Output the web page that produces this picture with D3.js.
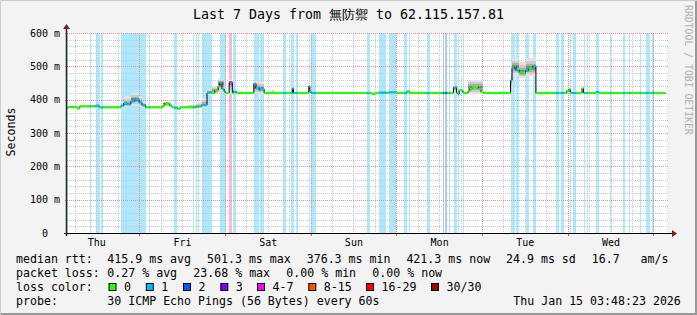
<!DOCTYPE html>
<html><head><meta charset="utf-8">
<script src="https://cdn.jsdelivr.net/npm/d3@7"></script>
<style>
html,body{margin:0;padding:0;background:#f3f3f3;}
svg{display:block;}
text{font-family:"DejaVu Sans Mono",monospace;white-space:pre;}
</style></head><body>
<script>
// ---------------- data ----------------
const titleText = "Last 7 Days from 無防禦 to 62.115.157.81";
const endTimeText = "Thu Jan 15 03:48:23 2026";
const yTicks = [0,100,200,300,400,500,600];
const yTickLabels = ["0  ","100 m","200 m","300 m","400 m","500 m","600 m"];
const lossLevels = ["0","1","2","3","4-7","8-15","16-29","30/30"];
const lossColors = ["#26ff00","#00b8ff","#0059ff","#7e00ff","#ff00ff","#ff5500","#ff0000","#a10000"];
// loss periods: [start hour, end hour, loss level index]
const lossBars = [[0,0.3,1],[6.4,6.8,1],[8.0,9.0,1],[9.5,10.0,1],[15.1,22.0,1],[23.0,23.2,1],[30.0,30.9,1],
 [35.4,35.6,1],[36.1,36.5,1],[36.8,37.0,1],[37.7,39.8,1],[40.0,40.6,1],[42.8,44.4,1],[45.4,46.3,4],[46.6,47.5,1],
 [52.3,53.8,1],[54.0,55.2,1],[60.5,61.3,1],[62.7,63.6,1],[64.0,64.5,1],[67.7,68.0,1],[68.3,69.7,1],[83.9,84.6,1],
 [87.4,89.5,1],[90.1,92.1,1],[94.4,95.2,1],[95.8,96.0,1],[100.7,101.4,1],[105.2,105.6,2],[105.9,106.5,2],
 [107.0,107.2,1],[108.3,109.1,1],[109.4,109.8,1],[110.8,111.2,1],[124.2,125.3,1],[125.7,126.6,1],[128.4,129.2,1],
 [130.4,131.3,1],[136.9,137.8,1],[138.3,139.2,1],[140.9,141.3,1],[141.6,142.5,1],[144.8,145.2,1],[145.5,145.8,1],
 [148.1,149.0,1],[152.0,152.4,1],[155.7,156.2,1],[157.4,157.8,1],[160.4,160.8,1],[162.0,163.0,1],[163.7,164.4,1]];
// median rtt (ms) steps: [start hour, value]
const medianSteps = [[0,375],[0.3,378],[2.8,374],[3.6,380],[8.0,382],[9.0,377],[15.1,382],[15.9,390],[16.8,386],
 [17.9,395],[19.0,400],[20.2,392],[21.0,383],[22.0,377],[26.9,383],[27.4,389],[28.8,382],[29.4,377],[30.0,376],
 [30.9,373],[31.7,377],[36.1,379],[37.0,380],[37.7,384],[39.2,420],[40.0,422],[40.6,420],[41.4,428],[42.3,440],
 [42.8,450],[43.4,432],[44.0,424],[44.4,420],[45.4,452],[46.3,420],[46.6,424],[47.5,420],[52.3,448],[52.9,435],
 [53.8,428],[54.0,432],[55.2,420],[63.1,433],[63.4,420],[67.7,440],[68.0,425],[68.3,420],[85.4,417],[86.2,420],
 [87.4,421],[89.5,420],[90.1,422],[92.1,420],[95.2,425],[95.8,420],[108.2,437],[109.1,420],[109.4,417],[109.8,428],
 [110.8,422],[111.2,420],[112.3,426],[112.8,433],[113.4,438],[115.1,432],[115.9,424],[116.5,420],[124.2,458],
 [124.6,494],[125.3,500],[125.7,488],[126.6,481],[128.4,487],[129.2,494],[130.4,501],[131.3,420],[139.9,426],
 [140.5,431],[140.9,422],[141.3,420],[144.2,434],[144.6,420],[148.1,423],[149.0,420]];
const dataEndHour = 167.6;
// smoke (ping spread) [start hour, end hour, low ms, high ms]
const smoke = [[15.1,15.9,376,388],[15.9,17.9,378,410],[17.9,20.2,380,420],[20.2,21.0,378,410],[21.0,22.0,376,392],
 [26.9,28.8,378,392],[33.9,36.0,374,385],[36.0,37.7,374,392],[37.7,39.2,376,404],[39.2,40.6,414,432],[40.6,42.3,416,440],
 [42.3,44.0,420,462],[44.0,44.4,418,432],[45.4,46.3,418,458],[52.3,53.8,420,455],[53.8,55.2,418,455],[57.3,58.2,420,428],
 [63.1,63.4,418,434],[67.7,68.0,418,442],[108.2,109.1,418,440],[112.3,116.5,418,460],[124.2,124.6,430,480],
 [124.6,126.6,470,524],[126.6,128.4,465,514],[128.4,131.3,470,524],[139.9,140.9,420,432]];
const statsRtt = ["median rtt:","415.9 ms avg","501.3 ms max","376.3 ms min","421.3 ms now","24.9 ms sd","16.7   am/s"];
const statsLoss = ["packet loss:","0.27 % avg","23.68 % max","0.00 % min","0.00 % now"];
const probeText = ["probe:","30 ICMP Echo Pings (56 Bytes) every 60s"];

// ---------------- layout ----------------
const W = 697, H = 315;
const X0 = 67, X1 = 667, YB = 233, YT = 33;
const START = Date.UTC(2026,0,8,3,48,23), END = START + 7*864e5;
const T = h => new Date(START + h*36e5);

const svg = d3.select("body").append("svg").attr("width",W).attr("height",H);
svg.append("rect").attr("width",W).attr("height",H).attr("fill","#f3f3f3");
svg.append("path").attr("d",`M0.5,${H}V0.5H${W}`).attr("stroke","#cbcbcb").attr("fill","none");
svg.append("path").attr("d",`M${W-1},1V${H-1}H1`).attr("stroke","#999").attr("stroke-width",2).attr("fill","none");

const x = d3.scaleUtc().domain([new Date(START),new Date(END)]).range([X0,X1]);
const y = d3.scaleLinear().domain([0,600]).range([YB,YT]);

svg.append("rect").attr("x",X0).attr("y",YT).attr("width",X1-X0).attr("height",YB-YT).attr("fill","#fff");

function mixWhite(c,a){const r=d3.rgb(c);return d3.rgb(255-(255-r.r)*a,255-(255-r.g)*a,255-(255-r.b)*a).toString();}

// loss bars
svg.append("g").attr("shape-rendering","crispEdges").selectAll("rect").data(lossBars).join("rect")
  .attr("x",d=>Math.round(x(T(d[0]))))
  .attr("width",d=>Math.max(1,Math.round(x(T(d[1]))-x(T(d[0])))))
  .attr("y",YT).attr("height",YB-YT)
  .attr("fill",d=>d[2]===4?"#ffb4dc":mixWhite(lossColors[d[2]],0.32));

// grid
const g = svg.append("g").attr("shape-rendering","crispEdges");
const minorY = d3.range(0,601,20).filter(v=>v%100!==0);
g.selectAll(".hy").data(minorY).join("line").attr("x1",X0).attr("x2",X1+2)
  .attr("y1",d=>Math.round(y(d))+0.5).attr("y2",d=>Math.round(y(d))+0.5)
  .attr("stroke","#c8c8c8").attr("stroke-dasharray","1,1");
const minorX = d3.utcHour.every(6).range(new Date(START),new Date(END)).filter(d=>d.getUTCHours()!==0);
g.selectAll(".vx").data(minorX).join("line").attr("y1",YT).attr("y2",YB)
  .attr("x1",d=>Math.round(x(d))+0.5).attr("x2",d=>Math.round(x(d))+0.5)
  .attr("stroke","#c8c8c8").attr("stroke-dasharray","1,1");
g.selectAll(".hY").data(yTicks.slice(1)).join("line").attr("x1",X0-2).attr("x2",X1+2)
  .attr("y1",d=>Math.round(y(d))+0.5).attr("y2",d=>Math.round(y(d))+0.5)
  .attr("stroke","#e79090").attr("stroke-dasharray","1,1");
const majorX = d3.utcDay.range(new Date(START),new Date(END));
g.selectAll(".vX").data(majorX).join("line").attr("y1",YT).attr("y2",YB+3)
  .attr("x1",d=>Math.round(x(d))+0.5).attr("x2",d=>Math.round(x(d))+0.5)
  .attr("stroke","#e79090").attr("stroke-dasharray","1,1");
g.selectAll(".tX").data(majorX).join("line").attr("y1",YB).attr("y2",YB+3)
  .attr("x1",d=>Math.round(x(d))+0.5).attr("x2",d=>Math.round(x(d))+0.5)
  .attr("stroke","#e05050");

function medAt(h){let v=medianSteps[0][1];for(const s of medianSteps){if(s[0]<=h+1e-9)v=s[1];else break;}return v;}
function lossAt(h){for(const b of lossBars){if(h>=b[0]&&h<b[1])return b[2];}return 0;}

// smoke
const sm = svg.append("g").attr("shape-rendering","crispEdges");
const shades = [[1,"#e2e2e2"],[0.7,"#cccccc"],[0.42,"#adadad"],[0.2,"#858585"]];
smoke.forEach(s=>{
  const m = medAt((s[0]+s[1])/2);
  shades.forEach(([f,c])=>{
    const lo = m-(m-s[2])*f, hi = m+(s[3]-m)*f;
    sm.append("rect").attr("x",x(T(s[0]))).attr("width",x(T(s[1]))-x(T(s[0])))
      .attr("y",y(hi)).attr("height",y(lo)-y(hi)).attr("fill",c);
  });
});

// median: black step line then coloured segments
const medPts = medianSteps.map(s=>[s[0],s[1]]).concat([[dataEndHour,medianSteps[medianSteps.length-1][1]]]);
svg.append("path").datum(medPts)
  .attr("d",d3.line().x(d=>x(T(d[0]))).y(d=>y(d[1])).curve(d3.curveStepAfter))
  .attr("fill","none").attr("stroke","#000").attr("stroke-width",1);
const cuts = Array.from(new Set(medianSteps.map(s=>s[0]).concat(lossBars.flatMap(b=>[b[0],b[1]])).concat([dataEndHour])))
  .filter(h=>h<=dataEndHour).sort((a,b)=>a-b);
const segs=[];
for(let i=0;i<cuts.length-1;i++){const a=cuts[i],b=cuts[i+1],mid=(a+b)/2;segs.push({a,b,v:medAt(mid),l:lossAt(mid)});}
svg.append("g").selectAll("line").data(segs).join("line")
  .attr("x1",d=>x(T(d.a))).attr("x2",d=>x(T(d.b)))
  .attr("y1",d=>y(d.v)).attr("y2",d=>y(d.v))
  .attr("stroke",d=>lossColors[d.l]).attr("stroke-width",2.2);

// axes lines + arrows
svg.append("line").attr("x1",X0-3).attr("x2",X1+6).attr("y1",YB+0.5).attr("y2",YB+0.5).attr("stroke","#000");
svg.append("line").attr("x1",X0-0.5).attr("x2",X0-0.5).attr("y1",YB+3).attr("y2",YT-5).attr("stroke","#222").attr("stroke-width",1.5);
svg.append("path").attr("d",`M${X1+5},${YB-3}L${X1+10},${YB+0.5}L${X1+5},${YB+4}Z`).attr("fill","#8b1a1a");
svg.append("path").attr("d",`M${X0-4},${YT-4}L${X0-0.5},${YT-9}L${X0+3},${YT-4}Z`).attr("fill","#8b1a1a");

// axis labels through d3 axes
const noons = d3.utcDay.range(d3.utcDay.floor(new Date(START)),new Date(END)).map(d=>d3.utcHour.offset(d,12))
  .filter(d=>d>new Date(START)&&d<new Date(END));
const ax = svg.append("g").attr("transform",`translate(0,${YB})`)
  .call(d3.axisBottom(x).tickValues(noons).tickSize(0).tickPadding(6).tickFormat(d3.utcFormat("%a")));
ax.select(".domain").remove();
ax.selectAll("text").attr("font-family","DejaVu Sans Mono").attr("font-size",10).attr("fill","#000");
const ay = svg.append("g").attr("transform",`translate(${X0-7},0)`)
  .call(d3.axisLeft(y).tickValues(yTicks).tickSize(0).tickPadding(0).tickFormat((d,i)=>yTickLabels[i]));
ay.select(".domain").remove();
ay.selectAll("text").attr("font-family","DejaVu Sans Mono").attr("font-size",10).attr("fill","#000");

// title & side texts
svg.append("text").attr("x",348.5).attr("y",19).attr("text-anchor","middle").attr("font-size",13.3).text(titleText);
svg.append("text").attr("transform","translate(15,132) rotate(-90)").attr("text-anchor","middle").attr("font-size",11.6).text("Seconds");
svg.append("text").attr("transform","translate(685,5) rotate(90)").attr("font-size",9.8).attr("fill","#b0b0b0").text("RRDTOOL / TOBI OETIKER");

// legend
const fs = 11.6;
const rttX = [16,107.3,207,306.7,406.4,506,591.7];
svg.append("g").selectAll("text").data(statsRtt).join("text").attr("x",(d,i)=>rttX[i]).attr("y",262.5).attr("font-size",fs).text(d=>d);
const lossX = [16,107.3,193.3,286.3,372.3];
svg.append("g").selectAll("text").data(statsLoss).join("text").attr("x",(d,i)=>lossX[i]).attr("y",276.5).attr("font-size",fs).text(d=>d);
svg.append("text").attr("x",16).attr("y",290.5).attr("font-size",fs).text("loss color:");
const boxX = [108.5,145.8,183,220.3,257,308.3,366,431];
const lg = svg.append("g").selectAll("g").data(lossLevels).join("g").attr("transform",(d,i)=>`translate(${boxX[i]},0)`);
lg.append("rect").attr("x",0.5).attr("y",283.5).attr("width",7).attr("height",7).attr("fill",(d,i)=>lossColors[i]).attr("stroke","#000");
lg.append("text").attr("x",15.5).attr("y",290.5).attr("font-size",fs).text(d=>d);
svg.append("text").attr("x",16).attr("y",304.5).attr("font-size",fs).text(probeText[0]);
svg.append("text").attr("x",107.3).attr("y",304.5).attr("font-size",fs).text(probeText[1]);
svg.append("text").attr("x",513.3).attr("y",304.5).attr("font-size",fs).text(endTimeText);
</script>
</body></html>
